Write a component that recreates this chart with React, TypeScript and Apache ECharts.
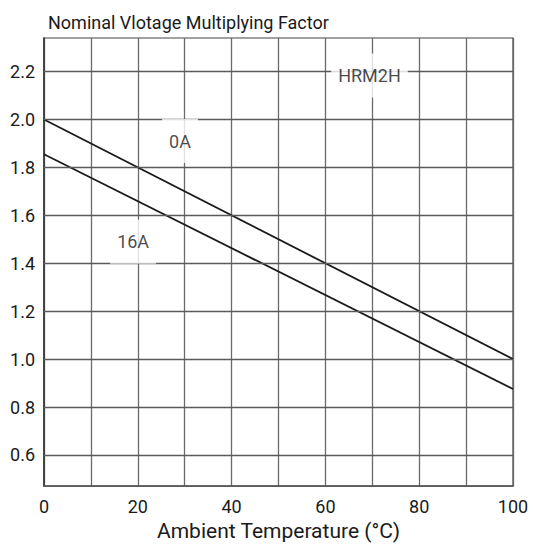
import React, { useEffect, useRef } from "react";
import * as echarts from "echarts";

const temperatures = [0, 100];
const factor0A = [2.0, 1.0];
const factor16A = [1.855, 0.875];
const yTicks = [0.6, 0.8, 1.0, 1.2, 1.4, 1.6, 1.8, 2.0, 2.2];
const annotations: [number, number, string][] = [
  [29.0, 1.91, "0A"],
  [19.0, 1.49, "16A"],
  [69.4, 2.183, "HRM2H"],
];

const FONT = "Roboto, 'Liberation Sans', sans-serif";

export default function App() {
  const ref = useRef<HTMLDivElement>(null);
  useEffect(() => {
    if (!ref.current) return;
    const chart = echarts.init(ref.current, undefined, { renderer: "svg" });
    const toPairs = (ys: number[]) => temperatures.map((t, i) => [t, ys[i]]);
    chart.setOption({
      animation: false,
      backgroundColor: "#fff",
      textStyle: { fontFamily: FONT },
      title: {
        text: "Nominal Vlotage Multiplying Factor",
        left: 43,
        top: 8,
        textStyle: { fontFamily: FONT, fontSize: 18, fontWeight: "normal", color: "#1a1a1a" },
      },
      grid: {
        left: 44,
        right: 20,
        top: 38,
        bottom: 59,
        show: true,
        borderColor: "#444",
        borderWidth: 1.2,
      },
      xAxis: {
        type: "value",
        min: 0,
        max: 100,
        interval: 10,
        axisLine: { show: true, lineStyle: { color: "#555", width: 1.5 } },
        axisTick: { show: false },
        axisLabel: {
          formatter: (v: number) => (v % 20 === 0 ? String(v) : ""),
          fontSize: 18,
          color: "#1a1a1a",
          margin: 11,
          fontFamily: FONT,
        },
        splitLine: { show: true, lineStyle: { color: "#6a6a6a", width: 1.3 } },
        name: "Ambient Temperature (°C)",
        nameLocation: "middle",
        nameGap: 30,
        nameTextStyle: { fontSize: 21, color: "#1a1a1a", fontFamily: FONT },
      },
      yAxis: {
        type: "value",
        min: 0.47,
        max: 2.34,
        axisLine: { show: true, lineStyle: { color: "#333", width: 1.5 } },
        axisTick: { show: false },
        axisLabel: { show: false },
        splitLine: { show: false },
      },
      series: [
        {
          name: "grid",
          type: "line",
          data: [],
          z: 1,
          silent: true,
          markLine: {
            silent: true,
            symbol: "none",
            animation: false,
            lineStyle: { color: "#5a5a5a", width: 1.3, type: "solid" },
            label: {
              show: true,
              position: "start",
              distance: 9,
              formatter: (p: any) => Number(p.value).toFixed(1),
              fontSize: 18,
              color: "#1a1a1a",
              fontFamily: FONT,
            },
            data: yTicks.map((v) => ({ yAxis: v })),
          },
        },
        {
          name: "0A",
          type: "line",
          data: toPairs(factor0A),
          showSymbol: false,
          lineStyle: { color: "#1a1a1a", width: 1.8 },
          z: 3,
        },
        {
          name: "16A",
          type: "line",
          data: toPairs(factor16A),
          showSymbol: false,
          lineStyle: { color: "#1a1a1a", width: 1.8 },
          z: 3,
        },
        {
          name: "labels",
          type: "scatter",
          symbolSize: 0,
          z: 5,
          data: annotations.map((a) => ({ value: [a[0], a[1]], name: a[2] })),
          label: {
            show: true,
            position: "inside",
            formatter: (p: any) => p.name,
            fontSize: 18,
            color: "#1a1a1a",
            fontFamily: FONT,
            backgroundColor: "#fff",
            padding: [13, 7, 13, 7],
          },
        },
      ],
    });
    return () => chart.dispose();
  }, []);
  return (
    <div
      ref={ref}
      style={{ position: "fixed", left: 0, top: 0, width: 533, height: 546 }}
    />
  );
}
